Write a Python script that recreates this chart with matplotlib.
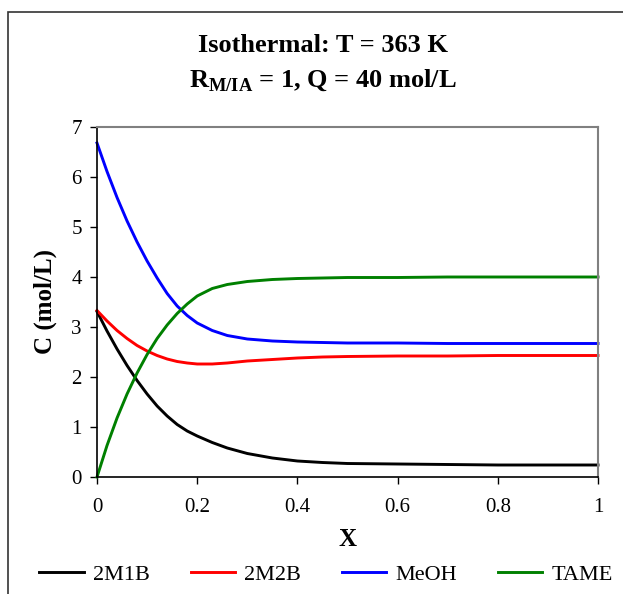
import numpy as np
import matplotlib
matplotlib.use("Agg")
import matplotlib.pyplot as plt
from matplotlib.patches import Rectangle

plt.rcParams['font.family'] = ['Liberation Serif', 'DejaVu Serif']
plt.rcParams['mathtext.fontset'] = 'custom'
plt.rcParams['mathtext.rm'] = 'Liberation Serif'
plt.rcParams['mathtext.bf'] = 'Liberation Serif:bold'

# conversion X and concentrations (mol/L)
X = [0, 0.02, 0.04, 0.06, 0.08, 0.10, 0.12, 0.14, 0.16, 0.18, 0.20, 0.23, 0.26,
     0.30, 0.35, 0.40, 0.45, 0.5, 0.6, 0.7, 0.8, 0.9, 1.0]
m1b = [3.31, 2.92, 2.56, 2.23, 1.93, 1.66, 1.42, 1.22, 1.05, 0.92, 0.82, 0.69, 0.58,
       0.47, 0.38, 0.32, 0.29, 0.27, 0.26, 0.25, 0.24, 0.24, 0.24]
m2b = [3.33, 3.12, 2.93, 2.77, 2.63, 2.52, 2.43, 2.36, 2.31, 2.28, 2.26, 2.26, 2.28,
       2.32, 2.35, 2.38, 2.40, 2.41, 2.42, 2.42, 2.43, 2.43, 2.43]
meoh = [6.68, 6.11, 5.59, 5.12, 4.70, 4.32, 3.98, 3.67, 3.42, 3.23, 3.08, 2.93, 2.83,
        2.76, 2.72, 2.70, 2.69, 2.68, 2.68, 2.67, 2.67, 2.67, 2.67]
tame = [0.0, 0.63, 1.18, 1.66, 2.08, 2.45, 2.77, 3.04, 3.27, 3.46, 3.62, 3.77, 3.85,
        3.91, 3.95, 3.97, 3.98, 3.99, 3.99, 4.0, 4.0, 4.0, 4.0]

names = ['2M1B', '2M2B', 'MeOH', 'TAME']
colors = ['black', '#FF0000', '#0000FF', '#008000']

fig = plt.figure(figsize=(6.23, 5.94), dpi=100)
ax = fig.add_axes([97/623, 1-477/594, 501/623, 350/594])

for y, lab, c in zip([m1b, m2b, meoh, tame], names, colors):
    ax.plot(X, y, color=c, lw=2.1, label=lab, clip_on=False, solid_joinstyle='round')

ax.set_xlim(0, 1)
ax.set_ylim(0, 7)
ax.set_xticks([0, 0.2, 0.4, 0.6, 0.8, 1.0])
ax.set_xticklabels(['0', '0.2', '0.4', '0.6', '0.8', '1'])
ax.set_yticks(range(8))
ax.tick_params(labelsize=15, length=5, width=1, direction='out', pad=6)
ax.tick_params(axis='x', pad=10)
for s in ['left', 'bottom']:
    ax.spines[s].set_color('black')
    ax.spines[s].set_linewidth(1.2)
for s in ['top', 'right']:
    ax.spines[s].set_color('#808080')
    ax.spines[s].set_linewidth(1.5)

ax.set_xlabel('X', fontsize=18, fontweight='bold', labelpad=8)
ax.set_ylabel('C (mol/L)', fontsize=18, fontweight='bold', labelpad=10)

fig.text(323/623, 1-45/594, 'Isothermal: T = 363 K', ha='center', va='center',
         fontsize=19, fontweight='bold')
fig.text(323/623, 1-80/594, r'R$_{\mathbf{M/IA}}$ = 1, Q = 40 mol/L', ha='center',
         va='center', fontsize=19, fontweight='bold')

fig.legend(loc='center', bbox_to_anchor=(326/623, 1-575/594), ncol=4, frameon=False,
           fontsize=16, handlelength=2.0, handletextpad=0.4, columnspacing=1.85)

fig.patches.append(Rectangle((8/623, -0.1), 1.2, 1.1 - 12/594, transform=fig.transFigure,
                             fill=False, edgecolor='#333333', lw=1.2))

fig.savefig('out.png', dpi=100)
